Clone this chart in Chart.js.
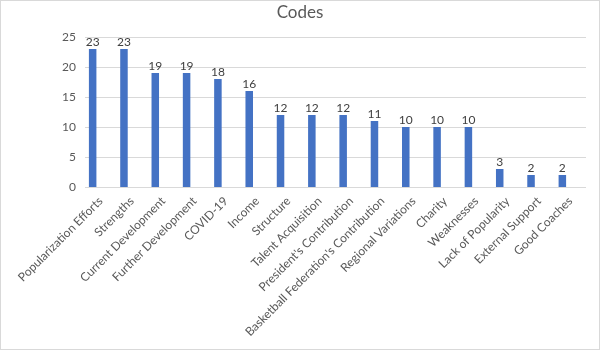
<!DOCTYPE html>
<html>
<head>
<meta charset="utf-8">
<script src="https://cdn.jsdelivr.net/npm/chart.js@4/dist/chart.umd.min.js"></script>
<style>
  html, body { margin: 0; padding: 0; background: #fff; }
  #wrap { width: 600px; height: 350px; box-sizing: border-box; border: 1px solid #d9d9d9; background: #fff; }
  canvas { display: block; }
</style>
</head>
<body>
<div id="wrap"><canvas id="c" width="598" height="348"></canvas></div>
<script>
const categories = [
  "Popularization Efforts", "Strengths", "Current Development", "Further Development",
  "COVID-19", "Income", "Structure", "Talent Acquisition", "President's Contribution",
  "Basketball Federation's Contribution", "Regional Variations", "Charity", "Weaknesses",
  "Lack of Popularity", "External Support", "Good Coaches"
];
const counts = [23, 23, 19, 19, 18, 16, 12, 12, 12, 11, 10, 10, 10, 3, 2, 2];
const yTicks = [0, 5, 10, 15, 20, 25];

const FONT = "Lato, 'Open Sans', 'Liberation Sans', sans-serif";
const GRID = '#d9d9d9';

// Horizontal value gridlines, offset a little to the right of the category band
const gridPlugin = {
  id: 'valueGrid',
  beforeDatasetsDraw(chart) {
    const { ctx, chartArea, scales } = chart;
    ctx.save();
    ctx.strokeStyle = GRID;
    ctx.lineWidth = 1;
    yTicks.forEach(v => {
      const y = Math.round(scales.y.getPixelForValue(v)) + 0.5;
      ctx.beginPath();
      ctx.moveTo(chartArea.left + 8, y);
      ctx.lineTo(chartArea.right + 8, y);
      ctx.stroke();
    });
    ctx.restore();
  }
};

// Value labels above each bar
const valueLabels = {
  id: 'valueLabels',
  afterDatasetsDraw(chart) {
    const { ctx } = chart;
    const meta = chart.getDatasetMeta(0);
    const data = chart.data.datasets[0].data;
    ctx.save();
    ctx.font = '12px ' + FONT;
    ctx.fillStyle = '#404040';
    ctx.textAlign = 'center';
    ctx.textBaseline = 'alphabetic';
    meta.data.forEach((bar, i) => {
      ctx.fillText(String(data[i]), bar.x, bar.y - 3);
    });
    ctx.restore();
  }
};

new Chart(document.getElementById('c'), {
  type: 'bar',
  data: {
    labels: categories,
    datasets: [{
      data: counts,
      backgroundColor: '#4472c4',
      borderWidth: 0,
      barPercentage: 0.24,
      categoryPercentage: 1.0
    }]
  },
  options: {
    responsive: false,
    animation: false,
    events: [],
    layout: { padding: { left: 21, right: 21, top: 0, bottom: 0 } },
    plugins: {
      legend: { display: false },
      tooltip: { enabled: false },
      title: {
        display: true,
        text: 'Codes',
        color: '#595959',
        font: { family: FONT, size: 17, weight: 'normal' },
        padding: { top: 1, bottom: 14.6 }
      }
    },
    scales: {
      x: {
        grid: { display: false, drawTicks: false },
        border: { display: false },
        ticks: {
          color: '#595959',
          font: { family: FONT, size: 12 },
          autoSkip: false,
          minRotation: 45,
          maxRotation: 45,
          padding: 7,
          labelOffset: 8
        },
        afterFit(scale) { scale.height = 162; }
      },
      y: {
        min: 0,
        max: 25,
        grid: { display: false, drawTicks: false },
        border: { display: false },
        ticks: {
          stepSize: 5,
          color: '#595959',
          font: { family: FONT, size: 12 },
          padding: 1
        },
        afterFit(scale) { scale.width = 55; }
      }
    }
  },
  plugins: [gridPlugin, valueLabels]
});
</script>
</body>
</html>
